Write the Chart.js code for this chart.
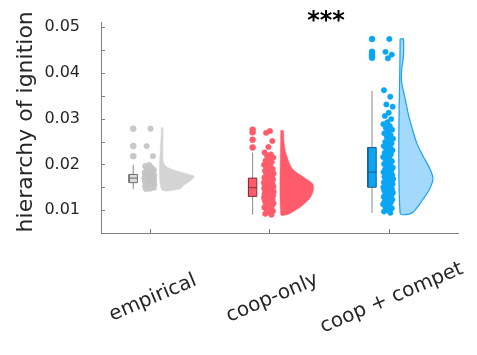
<!DOCTYPE html>
<html><head><meta charset="utf-8">
<script src="https://cdn.jsdelivr.net/npm/chart.js@4/dist/chart.umd.min.js"></script>
<style>html,body{margin:0;padding:0;background:#fff;}#wrap{width:477px;height:355px;}</style>
</head><body><div id="wrap"><canvas id="c" width="477" height="355"></canvas></div>
<script>
// ---------------- data ----------------
const categories = ['empirical', 'coop-only', 'coop + compet'];
const yTickValues = [0.005, 0.01, 0.015, 0.02, 0.025, 0.03, 0.035, 0.04, 0.045, 0.05];
const yTickLabels = ['', '0.01', '', '0.02', '', '0.03', '', '0.04', '', '0.05'];
const yTitle = 'hierarchy of ignition';
const significance = '***';

const empiricalValues = [0.0278, 0.0240, 0.0218, 0.0199, 0.0196, 0.0193, 0.0190, 0.0188, 0.0186, 0.0185,
  0.0184, 0.0183, 0.0182, 0.0181, 0.0180, 0.0179, 0.0178, 0.0178, 0.0177, 0.0177, 0.0176, 0.0175, 0.0175,
  0.0174, 0.0174, 0.0173, 0.0173, 0.0172, 0.0172, 0.0171, 0.0171, 0.0170, 0.0170, 0.0170, 0.0169, 0.0169,
  0.0168, 0.0168, 0.0167, 0.0167, 0.0166, 0.0166, 0.0165, 0.0165, 0.0164, 0.0164, 0.0163, 0.0163, 0.0162,
  0.0161, 0.0160, 0.0160, 0.0159, 0.0158, 0.0157, 0.0156, 0.0155, 0.0154, 0.0153, 0.0152, 0.0151, 0.0150,
  0.0149, 0.0147, 0.0146];
const coopOnlyValues = [0.0273, 0.0269, 0.0251, 0.0238, 0.0226, 0.0222, 0.0219, 0.0215, 0.0212, 0.0208,
  0.0205, 0.0202, 0.0199, 0.0196, 0.0193, 0.0190, 0.0188, 0.0186, 0.0184, 0.0182, 0.0180, 0.0178, 0.0176,
  0.0174, 0.0172, 0.0171, 0.0170, 0.0168, 0.0167, 0.0165, 0.0164, 0.0163, 0.0161, 0.0160, 0.0159, 0.0158,
  0.0157, 0.0156, 0.0155, 0.0154, 0.0153, 0.0152, 0.0151, 0.0150, 0.0149, 0.0149, 0.0148, 0.0147, 0.0146,
  0.0145, 0.0144, 0.0143, 0.0142, 0.0141, 0.0140, 0.0139, 0.0138, 0.0137, 0.0136, 0.0135, 0.0134, 0.0133,
  0.0132, 0.0131, 0.0130, 0.0129, 0.0128, 0.0127, 0.0126, 0.0125, 0.0123, 0.0122, 0.0120, 0.0119, 0.0117,
  0.0115, 0.0114, 0.0112, 0.0110, 0.0108, 0.0106, 0.0104, 0.0101, 0.0098, 0.0095, 0.0092, 0.0090];
const coopCompetValues = [0.0474, 0.0446, 0.0440, 0.0432, 0.0362, 0.0348, 0.0331, 0.0326, 0.0313, 0.0306,
  0.0299, 0.0292, 0.0288, 0.0284, 0.0280, 0.0276, 0.0272, 0.0268, 0.0264, 0.0260, 0.0256, 0.0252, 0.0249,
  0.0246, 0.0243, 0.0240, 0.0237, 0.0234, 0.0231, 0.0228, 0.0225, 0.0222, 0.0219, 0.0216, 0.0213, 0.0210,
  0.0207, 0.0204, 0.0201, 0.0198, 0.0195, 0.0193, 0.0191, 0.0189, 0.0187, 0.0185, 0.0183, 0.0181, 0.0179,
  0.0177, 0.0175, 0.0173, 0.0171, 0.0170, 0.0168, 0.0167, 0.0165, 0.0164, 0.0162, 0.0161, 0.0159, 0.0158,
  0.0157, 0.0155, 0.0154, 0.0153, 0.0151, 0.0150, 0.0148, 0.0147, 0.0146, 0.0144, 0.0143, 0.0141, 0.0140,
  0.0138, 0.0137, 0.0135, 0.0133, 0.0131, 0.0129, 0.0127, 0.0125, 0.0123, 0.0121, 0.0119, 0.0117, 0.0115,
  0.0113, 0.0110, 0.0107, 0.0104, 0.0100, 0.0097, 0.0094];

const boxQ1 = [0.0160, 0.0130, 0.0150];
const boxMedian = [0.0170, 0.0149, 0.0183];
const boxQ3 = [0.0178, 0.0170, 0.0237];
const whiskerLow = [0.0146, 0.0090, 0.0094];
const whiskerHigh = [0.0199, 0.0226, 0.0361];
const empiricalOutliers = [0.0278, 0.0240, 0.0218];
const coopOnlyOutliers = [0.0276, 0.0270, 0.0254, 0.0237];
const coopCompetOutliers = [0.0474, 0.0446, 0.0441, 0.0437, 0.0433];

// half-violin density profiles (value, relative width)
const empiricalViolinY = [0.0280, 0.0240, 0.0207, 0.0200, 0.0193, 0.0186, 0.0179, 0.0174, 0.0165, 0.0155, 0.0146];
const empiricalViolinW = [0.05, 0.05, 0.06, 0.10, 0.20, 0.45, 0.80, 1.00, 0.90, 0.70, 0.55];
const coopOnlyViolinY = [0.0274, 0.0250, 0.0230, 0.0218, 0.0200, 0.0187, 0.0172, 0.0158, 0.0146, 0.0127, 0.0109, 0.0095, 0.0090];
const coopOnlyViolinW = [0.08, 0.10, 0.14, 0.19, 0.28, 0.40, 0.70, 0.97, 1.00, 0.90, 0.64, 0.34, 0.18];
const coopCompetViolinY = [0.0474, 0.0435, 0.0408, 0.0379, 0.0345, 0.0310, 0.0281, 0.0246, 0.0218, 0.0190, 0.0169, 0.0148, 0.0120, 0.0094];
const coopCompetViolinW = [0.10, 0.10, 0.05, 0.05, 0.15, 0.25, 0.36, 0.51, 0.70, 0.91, 1.00, 0.91, 0.66, 0.36];

const groupValues = [empiricalValues, coopOnlyValues, coopCompetValues];
const groupOutliers = [empiricalOutliers, coopOnlyOutliers, coopCompetOutliers];
const groupViolinY = [empiricalViolinY, coopOnlyViolinY, coopCompetViolinY];
const groupViolinW = [empiricalViolinW, coopOnlyViolinW, coopCompetViolinW];

// ---------------- style ----------------
const pointColor = ['#c9c9c9', '#ff5b6b', '#0aa6f6'];
const pointBorder = ['#bdbdbd', '#ff5b6b', '#0aa6f6'];
const violinFill = ['#d4d4d4', '#ff5b6b', '#a3d9fb'];
const violinEdge = ['#d4d4d4', '#ff5b6b', '#1aa3f5'];
const boxFill = ['#dcdcdc', '#ff5b6b', '#0aa6f6'];
const boxEdge = ['#6e6e6e', '#8a2d38', '#1e5b86'];
const whiskerColor = '#8a8a8a';
const axisColor = '#808080';
const textColor = '#262626';
const BOX_OFFSET = -0.14, BOX_HALF = 0.035;
const POINT_CENTER = -0.005, POINT_SPREAD = 0.085;
const VIOLIN_OFFSET = 0.095, VIOLIN_SCALE = 0.275;
const jitterOffset = i => (((i + 1) * 0.6180339887) % 1) - 0.5;

const datasets = [];
categories.forEach((name, g) => {
  const cat = g + 1, bx = cat + BOX_OFFSET;
  datasets.push({ label: name + ' whisker', data: [{x: bx, y: whiskerLow[g]}, {x: bx, y: whiskerHigh[g]}],
    showLine: true, borderColor: whiskerColor, borderWidth: 1, pointRadius: 0, order: 10 });
  datasets.push({ label: name + ' box', data: [
      {x: bx - BOX_HALF, y: boxQ1[g]}, {x: bx + BOX_HALF, y: boxQ1[g]}, {x: bx + BOX_HALF, y: boxQ3[g]},
      {x: bx - BOX_HALF, y: boxQ3[g]}, {x: bx - BOX_HALF, y: boxQ1[g]}],
    showLine: true, fill: 'shape', backgroundColor: boxFill[g], borderColor: boxEdge[g], borderWidth: 1, pointRadius: 0, order: 9 });
  datasets.push({ label: name + ' median', data: [{x: bx - BOX_HALF, y: boxMedian[g]}, {x: bx + BOX_HALF, y: boxMedian[g]}],
    showLine: true, borderColor: boxEdge[g], borderWidth: 1, pointRadius: 0, order: 8 });
  datasets.push({ label: name + ' outliers', data: groupOutliers[g].map(v => ({x: bx, y: v})),
    pointRadius: 3, backgroundColor: pointColor[g], borderColor: pointBorder[g], borderWidth: 0.5, order: 7 });
  const vx = cat + VIOLIN_OFFSET, vy = groupViolinY[g], vw = groupViolinW[g];
  const poly = [{x: vx, y: vy[0]}];
  vy.forEach((y, i) => poly.push({x: vx + vw[i] * VIOLIN_SCALE, y: y}));
  poly.push({x: vx, y: vy[vy.length - 1]});
  poly.push({x: vx, y: vy[0]});
  datasets.push({ label: name + ' violin', data: poly, showLine: true, fill: 'shape', tension: 0.3,
    backgroundColor: violinFill[g], borderColor: violinEdge[g], borderWidth: g === 2 ? 1.2 : 0.5, pointRadius: 0, order: 6 });
  datasets.push({ label: name + ' points', data: groupValues[g].map((v, i) => ({x: cat + POINT_CENTER + jitterOffset(i) * POINT_SPREAD, y: v})),
    pointRadius: 2.7, backgroundColor: pointColor[g], borderColor: pointBorder[g], borderWidth: 0.5, order: 5 });
});

const decorations = {
  id: 'decorations',
  afterDraw(chart) {
    const {ctx, chartArea: a, scales: {x, y}} = chart;
    ctx.save();
    ctx.strokeStyle = axisColor; ctx.lineWidth = 1;
    ctx.beginPath();
    yTickValues.forEach(v => { const py = Math.round(y.getPixelForValue(v)) + 0.5; ctx.moveTo(a.left, py); ctx.lineTo(a.left + 4, py); });
    categories.forEach((c, i) => { const px = Math.round(x.getPixelForValue(i + 1)) + 0.5; ctx.moveTo(px, a.bottom); ctx.lineTo(px, a.bottom - 4); });
    ctx.stroke();
    ctx.fillStyle = textColor;
    // x labels (rotated about their centre)
    ctx.font = '20px "DejaVu Sans"';
    ctx.textAlign = 'center'; ctx.textBaseline = 'middle';
    categories.forEach((c, i) => {
      ctx.save();
      ctx.translate(x.getPixelForValue(i + 1) + 3, a.bottom + 65);
      ctx.rotate(-23 * Math.PI / 180);
      ctx.fillText(c, 0, 0);
      ctx.restore();
    });
    // y title
    ctx.save();
    ctx.font = '22px "DejaVu Sans"';
    ctx.translate(26, (a.top + a.bottom) / 2 - 6);
    ctx.rotate(-Math.PI / 2);
    ctx.fillText(yTitle, 0, 0);
    ctx.restore();
    // significance
    ctx.font = 'bold 24px "DejaVu Sans"';
    ctx.textBaseline = 'alphabetic';
    ctx.fillStyle = '#000';
    ctx.fillText(significance, x.getPixelForValue(2.5) - 3, a.top + 5);
    ctx.restore();
  }
};

new Chart(document.getElementById('c'), {
  type: 'scatter',
  data: { datasets },
  options: {
    responsive: false, animation: false, events: [],
    layout: { padding: { top: 14, right: 19, bottom: 0, left: 0 } },
    plugins: { legend: { display: false }, tooltip: { enabled: false } },
    scales: {
      x: { type: 'linear', min: 0.59, max: 3.58,
        ticks: { display: false }, grid: { display: false },
        border: { display: true, color: axisColor, width: 1 },
        afterFit: s => { s.height = 122; } },
      y: { type: 'linear', min: 0.005, max: 0.051,
        afterBuildTicks: s => { s.ticks = yTickValues.map(v => ({value: v})); },
        ticks: { autoSkip: false, padding: 13, color: textColor, font: { family: 'DejaVu Sans', size: 16 },
          callback: (v, i) => yTickLabels[i] },
        grid: { display: false },
        border: { display: true, color: axisColor, width: 1 },
        afterFit: s => { s.width = 101; } }
    }
  },
  plugins: [decorations]
});
</script></body></html>
